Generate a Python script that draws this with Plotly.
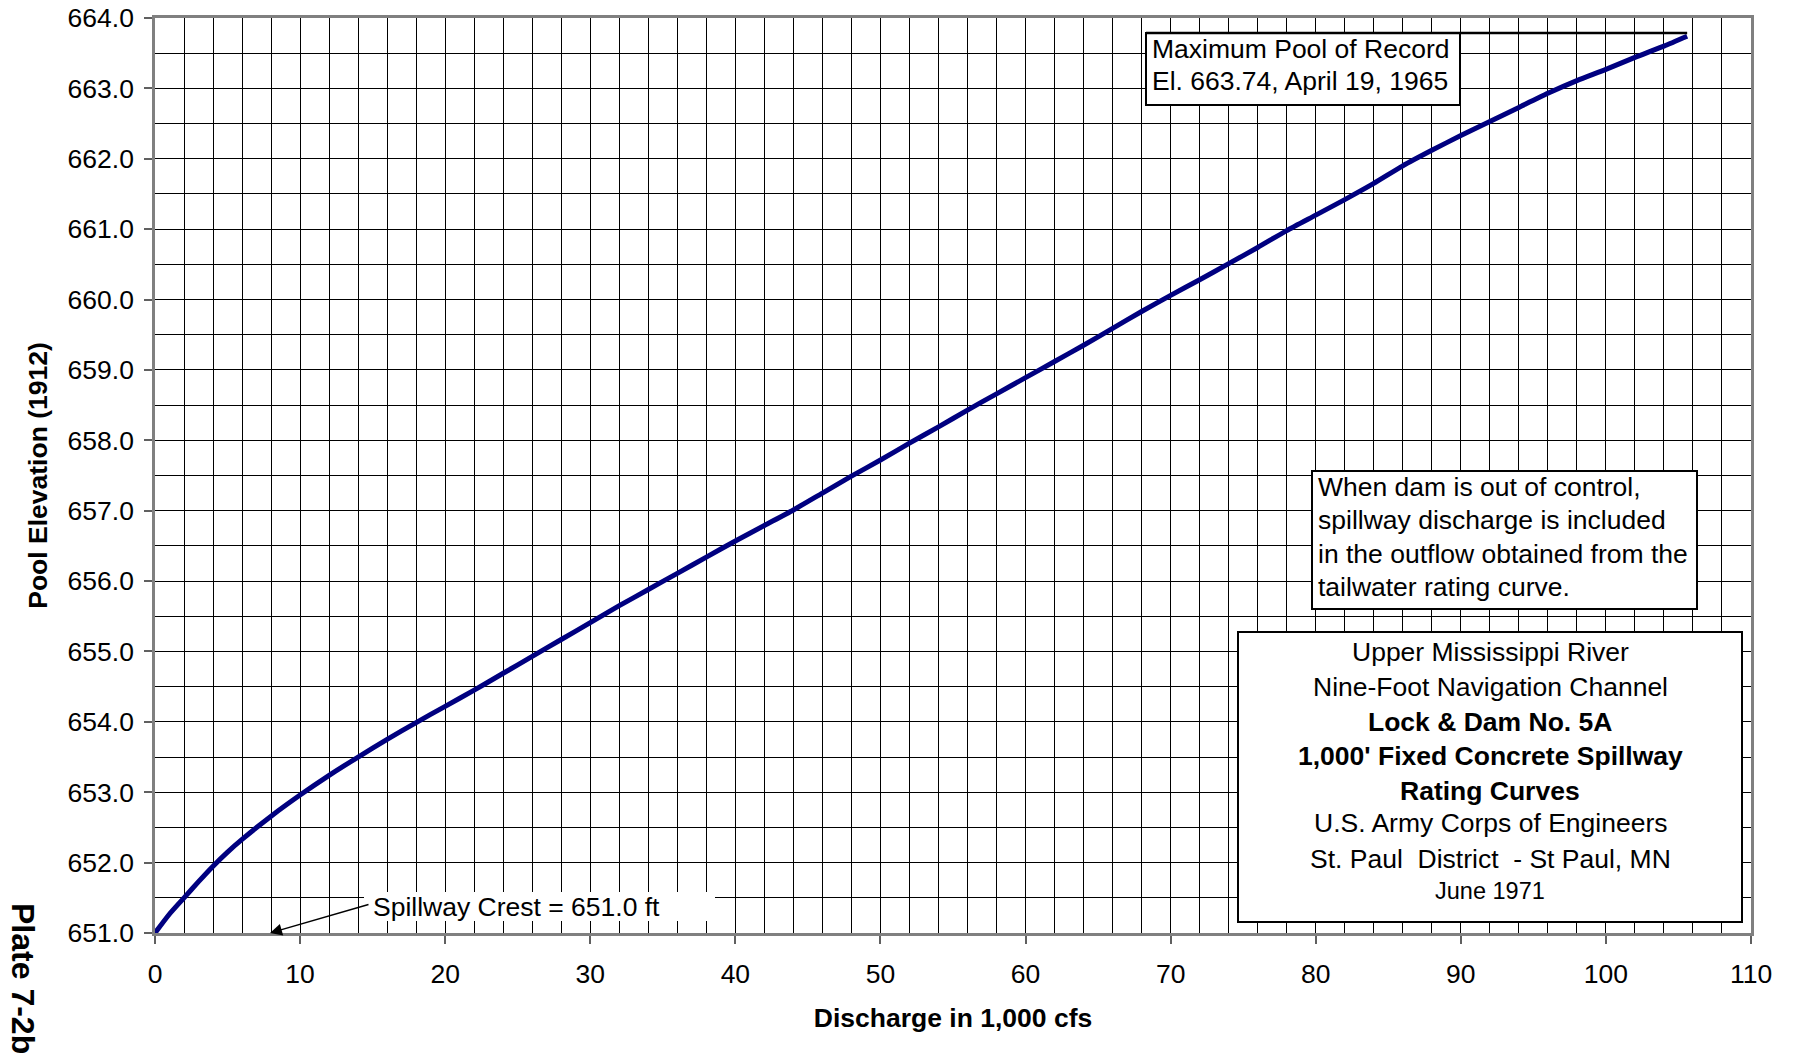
import plotly.graph_objects as go

# Spillway rating curve: discharge (1,000 cfs) vs. pool elevation (ft, 1912 datum)
discharge_kcfs = [0, 1, 2, 3, 4, 5, 6, 8, 10, 12, 14, 16, 18, 20, 22, 24, 26,
                  28, 30, 32, 34, 36, 38, 40, 42, 44, 46, 48, 50, 52, 54, 56,
                  58, 60, 62, 64, 66, 68, 70, 72, 74, 76, 78, 80, 82, 84, 86,
                  88, 90, 92, 94, 96, 98, 100, 102, 104, 105.6]
pool_elev = [651.0, 651.27, 651.5, 651.73, 651.95, 652.15, 652.33, 652.66,
             652.96, 653.24, 653.5, 653.75, 653.99, 654.22, 654.45, 654.69,
             654.93, 655.17, 655.41, 655.65, 655.88, 656.11, 656.34, 656.57,
             656.79, 657.01, 657.25, 657.49, 657.72, 657.96, 658.19, 658.43,
             658.66, 658.89, 659.12, 659.35, 659.59, 659.83, 660.06, 660.28,
             660.51, 660.74, 660.98, 661.2, 661.42, 661.65, 661.9, 662.12,
             662.33, 662.53, 662.73, 662.93, 663.11, 663.27, 663.44, 663.6,
             663.74]

x_ticks = list(range(0, 111, 10))
y_ticks = [651.0 + i for i in range(14)]
y_tick_text = [f"{v:.1f}" for v in y_ticks]

record_lines = ["Maximum Pool of Record", "El. 663.74, April 19, 1965"]
note_lines = ["When dam is out of control,",
              "spillway discharge is included",
              "in the outflow obtained from the",
              "tailwater rating curve."]
title_lines = [("Upper Mississippi River", False, 26.5),
               ("Nine-Foot Navigation Channel", False, 26.5),
               ("Lock & Dam No. 5A", True, 26.5),
               ("1,000' Fixed Concrete Spillway", True, 26.5),
               ("Rating Curves", True, 26.5),
               ("U.S. Army Corps of Engineers", False, 26.5),
               ("St. Paul  District  - St Paul, MN", False, 26.5),
               ("June 1971", False, 23.5)]
crest_label = "Spillway Crest = 651.0 ft"
crest_elev = 651.0
plate_label = "Plate 7-2b"

FONT = "Liberation Sans, Arial, sans-serif"
FS = 26.5
W, H = 1793, 1059
ML, MR, MT, MB = 155, 42, 18, 126
PX0, PX1, PY0, PY1 = ML, W - MR, MT, H - MB


def fx(p):
    """page pixel column -> paper x"""
    return (p - PX0) / (PX1 - PX0)


def fy(p):
    """page pixel row -> paper y"""
    return (PY1 - p) / (PY1 - PY0)


def dx(p):
    """page pixel column -> discharge value"""
    return fx(p) * 110


fig = go.Figure()
fig.add_trace(go.Scatter(
    x=discharge_kcfs, y=pool_elev, mode="lines",
    line=dict(color="#000080", width=5, shape="spline", smoothing=0.6),
    hoverinfo="skip", showlegend=False))

shapes = []
annotations = []


def box(x0, x1, y0, y1, line=True):
    shapes.append(dict(type="rect", xref="paper", yref="paper",
                       x0=fx(x0), x1=fx(x1), y0=fy(y1), y1=fy(y0),
                       fillcolor="white",
                       line=dict(color="black", width=2 if line else 0),
                       layer="above"))


def text(s, x, y, anchor="left", size=FS, bold=False):
    annotations.append(dict(xref="paper", yref="paper", x=fx(x), y=fy(y),
                            xanchor=anchor, yanchor="middle", showarrow=False,
                            text=f"<b>{s}</b>" if bold else s,
                            font=dict(family=FONT, size=size, color="black")))


# maximum pool of record box and leader line to the end of the curve
box(1146, 1460, 33, 105)
shapes.append(dict(type="line", xref="x", yref="paper",
                   x0=dx(1146), x1=discharge_kcfs[-1], y0=fy(33), y1=fy(33),
                   line=dict(color="black", width=2.5), layer="above"))
for i, s in enumerate(record_lines):
    text(s, 1150, 49 + 32.5 * i)

# note box
box(1312, 1697, 471, 609)
for i, s in enumerate(note_lines):
    text(s, 1316, 487 + 33.3 * i)

# title block
box(1238, 1742, 632, 922)
title_y = [651.7, 687.3, 721.7, 756, 790.7, 823.3, 859.3, 890.7]
for (s, b, sz), yy in zip(title_lines, title_y):
    text(s, 1490, yy, anchor="center", size=sz, bold=b)

# spillway crest label with arrow
box(364, 715, 892, 921, line=False)
text(crest_label, 371, 907)
annotations.append(dict(x=dx(270), y=crest_elev, xref="x", yref="y",
                        ax=100, ay=-29, text="", showarrow=True,
                        arrowhead=2, arrowsize=1.6, arrowwidth=1.5,
                        arrowcolor="black", standoff=0))

# plate number
annotations.append(dict(xref="paper", yref="paper", x=fx(23), y=fy(978),
                        xanchor="center", yanchor="middle", showarrow=False,
                        textangle=90, text=f"<b>{plate_label}</b>",
                        font=dict(family=FONT, size=32, color="black")))

axis_common = dict(
    showline=True, mirror=True, linecolor="#808080", linewidth=2.5,
    ticks="outside", ticklen=8, tickcolor="#606060", tickwidth=1.5,
    showgrid=True, gridcolor="black", gridwidth=1, zeroline=False,
    automargin=False,
    tickfont=dict(family=FONT, size=FS, color="black"),
)

fig.update_layout(
    width=W, height=H,
    margin=dict(l=ML, r=MR, t=MT, b=MB, autoexpand=False),
    paper_bgcolor="white", plot_bgcolor="white",
    font=dict(family=FONT, color="black"),
    showlegend=False,
    shapes=shapes, annotations=annotations,
    xaxis=dict(range=[0, 110], tickvals=x_ticks, ticklabelstandoff=7,
               minor=dict(dtick=2, tick0=0, showgrid=True, gridcolor="black",
                          gridwidth=1, ticks=""),
               title=dict(text="<b>Discharge in 1,000 cfs</b>", standoff=21,
                          font=dict(family=FONT, size=FS, color="black")),
               **axis_common),
    yaxis=dict(range=[651, 664], tickvals=y_ticks, ticktext=y_tick_text,
               ticklabelstandoff=5,
               minor=dict(dtick=0.5, tick0=651, showgrid=True,
                          gridcolor="black", gridwidth=1, ticks=""),
               title=dict(text="<b>Pool Elevation (1912)</b>", standoff=13,
                          font=dict(family=FONT, size=FS, color="black")),
               **axis_common),
)

fig.write_html("out.html")
